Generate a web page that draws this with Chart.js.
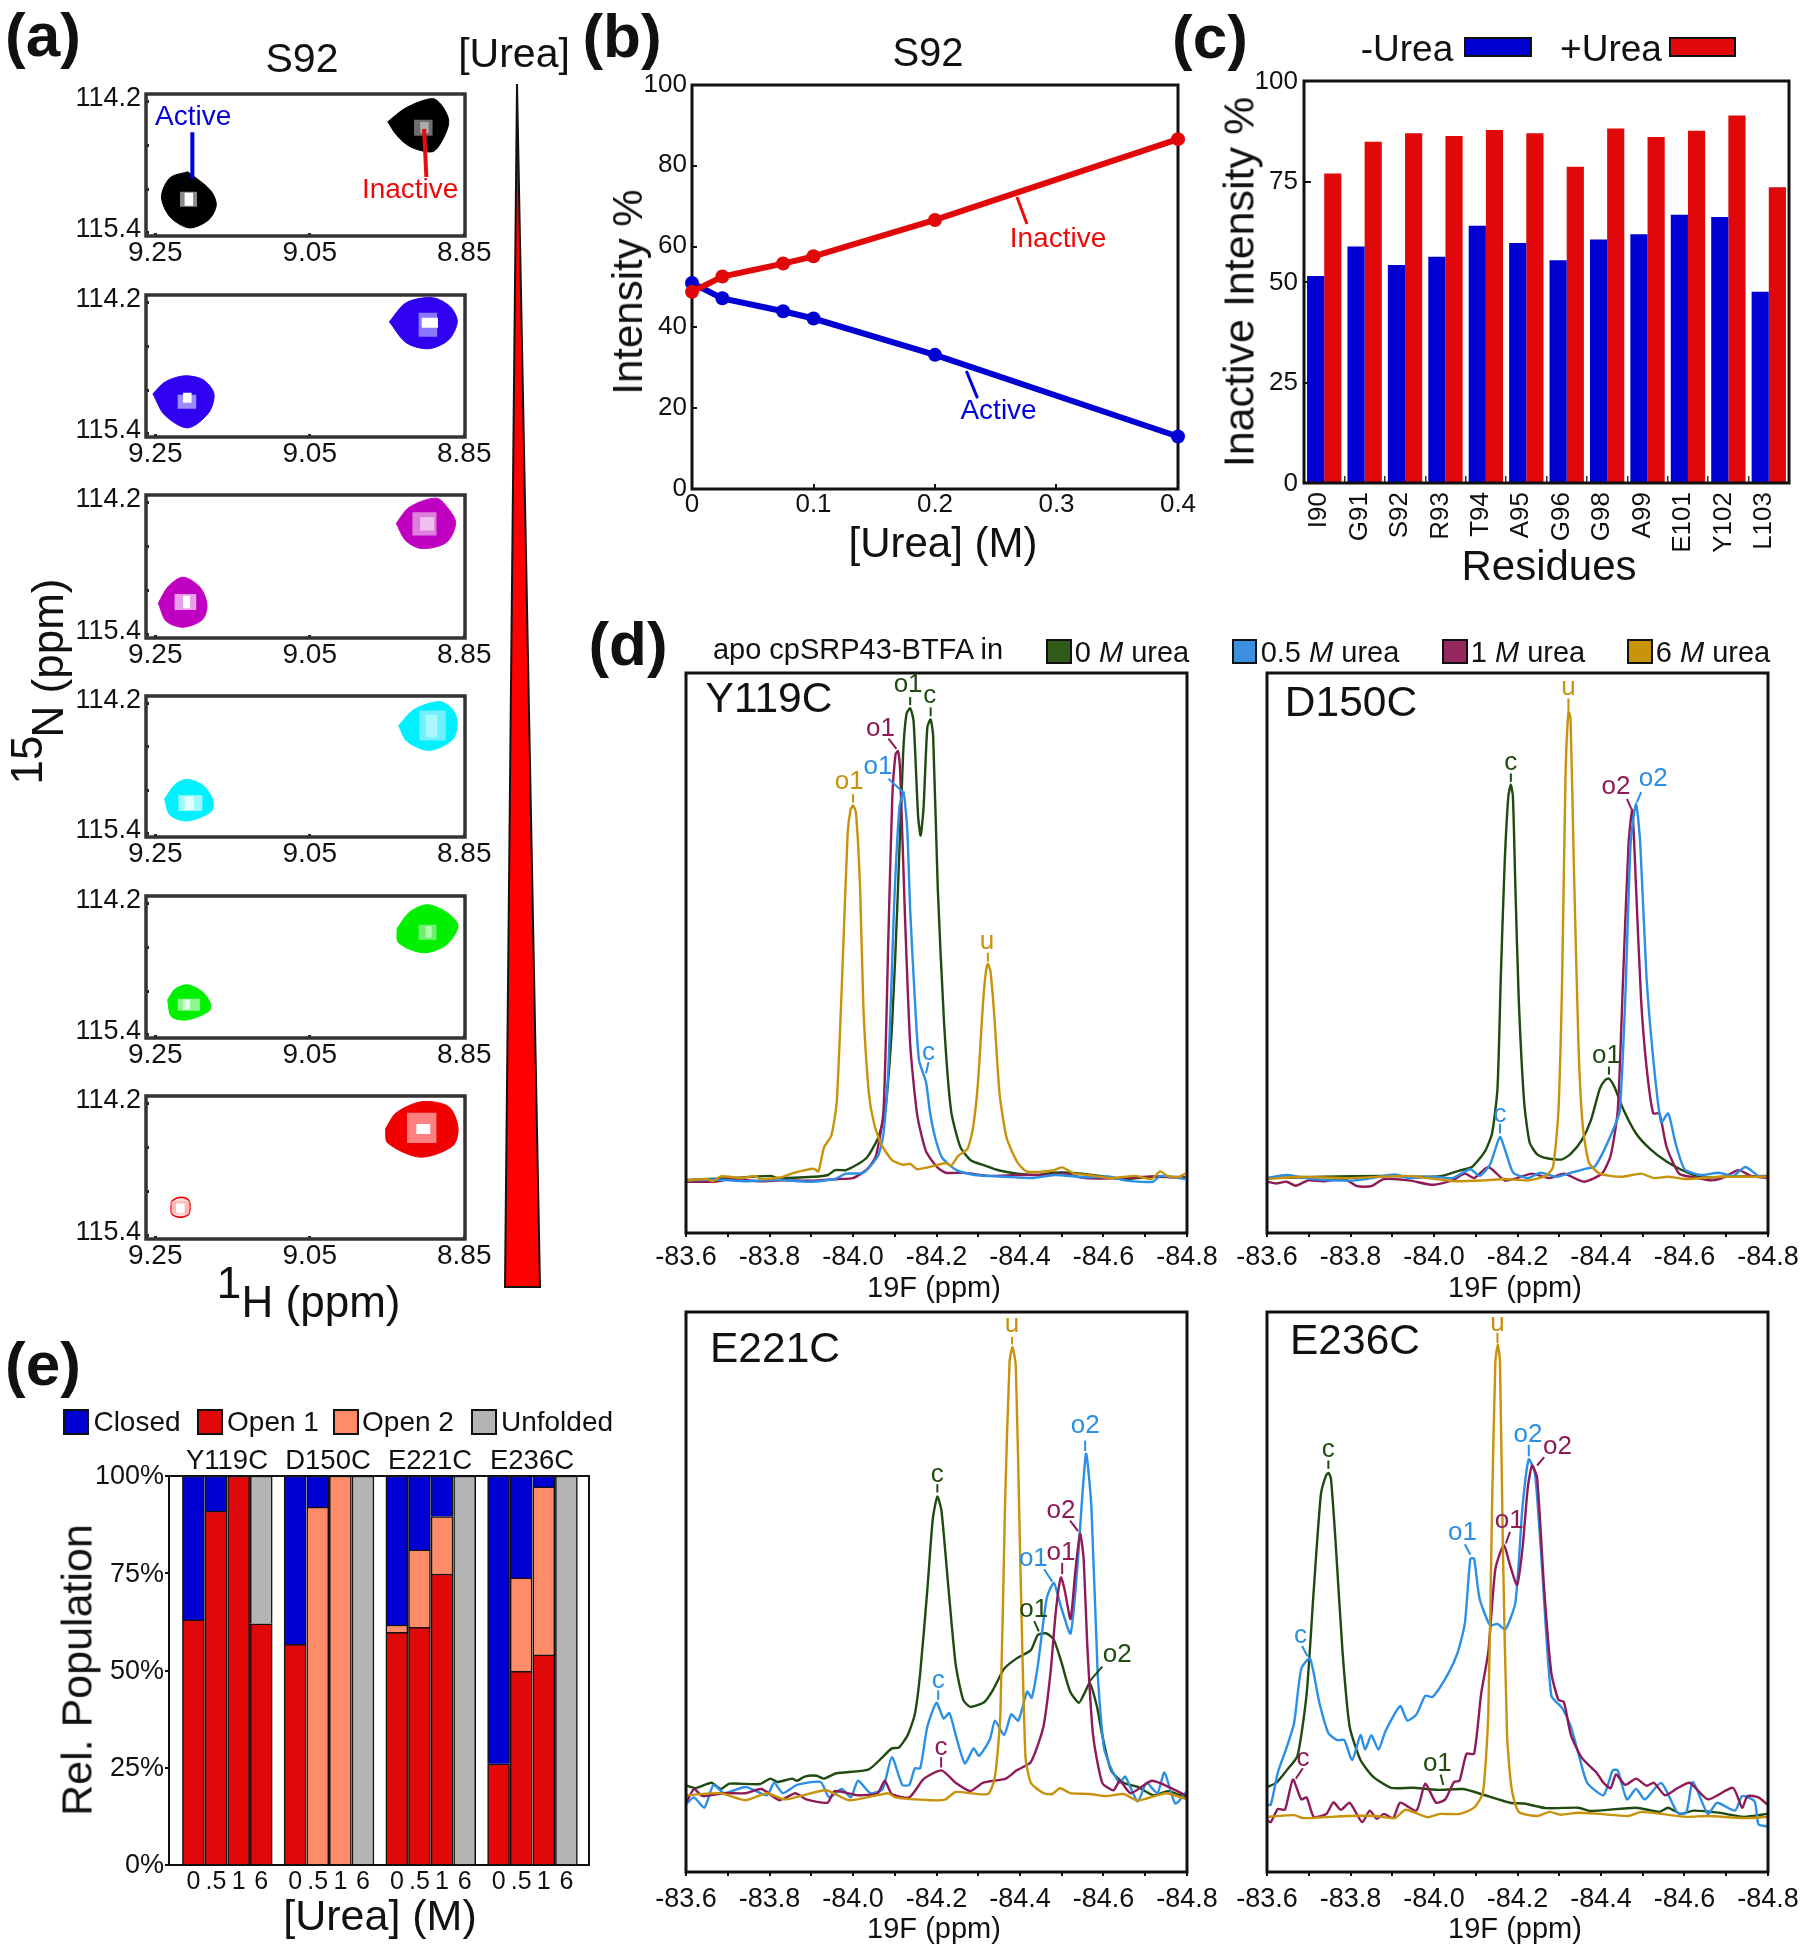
<!DOCTYPE html>
<html><head><meta charset="utf-8">
<script src="https://cdn.jsdelivr.net/npm/chart.js@4"></script>
<style>
html,body{margin:0;padding:0;background:#fff}
#page{position:relative;width:1805px;height:1950px;overflow:hidden;background:#fff;font-family:"Liberation Sans",Arial,sans-serif;color:#111}
canvas{position:absolute}
.t{position:absolute;white-space:nowrap;line-height:1;transform:translate(-50%,-50%)}
.s{position:absolute;box-sizing:border-box;border:2px solid #111}
</style></head><body><div id="page"></div>
<script>
/* ---------- (a) contour outlines, 1H and 15N ppm ---------- */
const ticksA_H=[9.25,9.05,8.85], ticksA_N=[114.2,114.6,115.0,115.4];
const f1aH=[9.208,9.179,9.171,9.181,9.206,9.231,9.242,9.231,9.208], f1aN=[114.822,114.982,115.116,115.249,115.32,115.222,115.044,114.876,114.822];
const f1iH=[8.949,8.925,8.891,8.878,8.87,8.878,8.891,8.92,8.938,8.949], f1iN=[114.378,114.253,114.173,114.244,114.378,114.538,114.644,114.6,114.493,114.378];
const f2aH=[9.253,9.237,9.212,9.188,9.174,9.181,9.208,9.238,9.253], f2aN=[115.009,114.902,114.849,114.884,115.009,115.178,115.311,115.196,115.009];
const f2iH=[8.947,8.925,8.891,8.868,8.859,8.87,8.896,8.925,8.947], f2iN=[114.369,114.2,114.156,114.236,114.369,114.529,114.609,114.556,114.369];
const f3aH=[9.246,9.233,9.214,9.192,9.183,9.189,9.214,9.236,9.246], f3aN=[115.084,114.936,114.856,114.945,115.1,115.23,115.297,115.243,115.084];
const f3iH=[8.938,8.921,8.886,8.87,8.861,8.873,8.905,8.926,8.938], f3iN=[114.381,114.239,114.16,114.257,114.381,114.55,114.604,114.532,114.381];
const f4aH=[9.238,9.224,9.208,9.187,9.176,9.177,9.208,9.231,9.238], f4aN=[115.053,114.92,114.876,114.938,115.053,115.16,115.249,115.196,115.053];
const f4iH=[8.935,8.915,8.882,8.865,8.859,8.865,8.895,8.924,8.935], f4iN=[114.396,114.253,114.182,114.253,114.369,114.52,114.618,114.538,114.396];
const f5aH=[9.234,9.224,9.208,9.189,9.179,9.18,9.208,9.229,9.234], f5aN=[115.053,114.956,114.92,114.982,115.08,115.151,115.231,115.204,115.053];
const f5iH=[8.937,8.921,8.898,8.873,8.858,8.873,8.903,8.935,8.937], f5iN=[114.422,114.276,114.209,114.276,114.396,114.564,114.636,114.547,114.422];
const f6aH=[9.229,9.222,9.213,9.206,9.206,9.213,9.222,9.229,9.229], f6aN=[115.06,115.03,115.027,115.06,115.165,115.196,115.196,115.165,115.06];
const f6iH=[8.952,8.938,8.905,8.87,8.858,8.865,8.907,8.949,8.952], f6iN=[114.422,114.28,114.182,114.227,114.413,114.573,114.671,114.547,114.422];
/* inner contour clusters: h1,h2,n1,n2 */
const f1Core=[[9.218,9.196,115.0,115.133],[9.212,9.201,115.009,115.124],[8.915,8.891,114.36,114.502],[8.907,8.896,114.38,114.48]];
const f2Core=[[9.221,9.197,115.018,115.142],[9.214,9.203,115.0,115.089],[8.909,8.885,114.289,114.502],[8.905,8.884,114.333,114.422]];
const f3Core=[[9.225,9.197,115.004,115.146],[9.214,9.205,115.02,115.13],[8.917,8.886,114.284,114.488],[8.907,8.889,114.328,114.444]];
const f4Core=[[9.22,9.189,115.018,115.16],[9.212,9.2,115.03,115.15],[8.908,8.874,114.262,114.529],[8.9,8.885,114.3,114.5]];
const f5Core=[[9.221,9.192,115.044,115.151],[9.214,9.205,115.05,115.14],[8.909,8.886,114.387,114.52],[8.9,8.892,114.4,114.5]];
const f6Core=[[9.229,9.206,115.06,115.165],[9.223,9.212,115.08,115.16],[8.924,8.886,114.28,114.547],[8.912,8.894,114.378,114.467]];

/* ---------- (b) ---------- */
const ureaConc=[0,0.025,0.075,0.1,0.2,0.4];
const activePct=[51,47.2,44,42.2,33.2,13];
const inactivePct=[48.8,52.6,55.8,57.6,66.6,86.6];
const ticksB_X=[0,0.1,0.2,0.3,0.4], ticksB_Y=[0,20,40,60,80,100];

/* ---------- (c) ---------- */
const residues=["I90","G91","S92","R93","T94","A95","G96","G98","A99","E101","Y102","L103"];
const minusUrea=[51.5,58.8,54.2,56.3,64,59.7,55.4,60.6,61.9,66.7,66.2,47.6];
const plusUrea=[77,84.9,87,86.3,87.8,87,78.7,88.2,86.1,87.6,91.4,73.6];
const ticksC_Y=[0,25,50,75,100];

/* ---------- (d) spectra: ppm and arbitrary intensity ---------- */
const ticksD_X=[-83.6,-83.7,-83.8,-83.9,-84.0,-84.1,-84.2,-84.3,-84.4,-84.5,-84.6,-84.7,-84.8];
const y119GoldX=[-83.602,-83.649,-83.666,-83.683,-83.734,-83.764,-83.781,-83.829,-83.859,-83.906,-83.917,-83.931,-83.948,-83.961,-83.974,-83.987,-83.994,-84.000,-84.007,-84.017,-84.025,-84.038,-84.051,-84.068,-84.094,-84.120,-84.137,-84.154,-84.197,-84.222,-84.235,-84.252,-84.274,-84.287,-84.299,-84.312,-84.318,-84.323,-84.329,-84.338,-84.351,-84.368,-84.394,-84.415,-84.445,-84.479,-84.501,-84.530,-84.565,-84.616,-84.676,-84.715,-84.736,-84.753,-84.779,-84.796];
const y119GoldY=[118,121,116,127,123,128,121,125,135,144,138,193,218,293,573,893,948,958,943,773,503,313,243,198,163,153,155,143,151,157,151,173,188,233,333,523,583,603,588,493,313,213,158,138,137,140,147,133,130,123,128,121,138,128,125,133];
const y119GreenX=[-83.602,-83.709,-83.803,-83.820,-83.906,-83.940,-83.957,-83.983,-84.013,-84.034,-84.060,-84.077,-84.094,-84.107,-84.120,-84.128,-84.137,-84.145,-84.156,-84.162,-84.169,-84.178,-84.186,-84.192,-84.203,-84.218,-84.235,-84.257,-84.282,-84.316,-84.351,-84.394,-84.445,-84.479,-84.522,-84.608,-84.650,-84.719,-84.796];
const y119GreenY=[119,123,128,123,126,130,141,141,155,170,213,273,473,753,1073,1163,1176,1148,933,891,953,1133,1151,1113,773,473,273,193,163,151,140,133,130,135,135,126,121,126,125];
const y119PurpleX=[-83.602,-83.666,-83.709,-83.777,-83.829,-83.897,-83.966,-84.000,-84.034,-84.055,-84.073,-84.085,-84.094,-84.102,-84.108,-84.113,-84.124,-84.137,-84.154,-84.175,-84.201,-84.222,-84.265,-84.325,-84.394,-84.462,-84.505,-84.556,-84.650,-84.719,-84.796];
const y119PurpleY=[115,115,121,116,118,117,121,123,143,173,273,673,973,1073,1080,1033,723,423,263,183,148,135,135,128,130,130,133,123,123,127,123];
const y119BlueX=[-83.602,-83.666,-83.743,-83.820,-83.897,-83.957,-83.983,-84.025,-84.060,-84.073,-84.085,-84.098,-84.111,-84.121,-84.130,-84.137,-84.147,-84.158,-84.175,-84.184,-84.197,-84.214,-84.248,-84.291,-84.368,-84.428,-84.483,-84.556,-84.616,-84.650,-84.719,-84.736,-84.796];
const y119BlueY=[118,120,116,119,115,121,133,135,173,223,373,723,953,988,903,723,543,388,338,273,213,168,141,130,126,123,130,125,126,118,115,128,121];

const d150GreenX=[-83.600,-83.734,-83.880,-83.966,-84.018,-84.061,-84.091,-84.122,-84.139,-84.152,-84.160,-84.169,-84.178,-84.184,-84.189,-84.195,-84.203,-84.216,-84.229,-84.247,-84.268,-84.307,-84.328,-84.354,-84.376,-84.397,-84.410,-84.419,-84.432,-84.453,-84.484,-84.518,-84.557,-84.596,-84.639,-84.699,-84.798];
const d150GreenY=[123,126,128,126,128,140,148,183,223,323,573,823,978,1005,978,773,523,293,203,176,168,165,178,208,253,323,343,346,328,278,223,188,160,140,125,126,128];
const d150GoldX=[-83.600,-83.682,-83.794,-83.932,-84.053,-84.122,-84.169,-84.225,-84.268,-84.285,-84.298,-84.307,-84.315,-84.322,-84.327,-84.335,-84.346,-84.356,-84.371,-84.397,-84.449,-84.496,-84.527,-84.561,-84.604,-84.690,-84.798];
const d150GoldY=[121,126,123,128,116,118,121,118,128,148,273,573,1023,1168,1153,823,423,243,158,133,126,133,123,126,121,126,126];
const d150PurpleX=[-83.600,-83.622,-83.647,-83.669,-83.699,-83.734,-83.785,-83.816,-83.850,-83.880,-83.940,-83.997,-84.044,-84.074,-84.096,-84.130,-84.169,-84.199,-84.234,-84.277,-84.311,-84.359,-84.402,-84.423,-84.440,-84.453,-84.466,-84.475,-84.484,-84.496,-84.509,-84.525,-84.540,-84.557,-84.587,-84.621,-84.665,-84.690,-84.729,-84.759,-84.798];
const d150PurpleY=[115,111,115,106,118,116,121,105,105,121,118,108,118,133,123,148,118,123,133,123,133,115,133,173,273,573,873,948,773,523,373,268,268,193,133,125,118,123,141,128,123];
const d150BlueX=[-83.600,-83.647,-83.708,-83.811,-83.906,-83.940,-84.001,-84.044,-84.087,-84.109,-84.134,-84.158,-84.173,-84.190,-84.225,-84.255,-84.294,-84.328,-84.367,-84.384,-84.406,-84.432,-84.445,-84.458,-84.471,-84.484,-84.494,-84.509,-84.527,-84.544,-84.561,-84.578,-84.600,-84.639,-84.682,-84.716,-84.746,-84.777,-84.798];
const d150BlueY=[123,130,121,118,131,123,126,123,143,128,153,215,178,135,123,135,126,135,145,148,183,238,273,523,873,963,873,573,373,248,268,203,143,130,135,128,148,128,126];

const e221GreenX=[-83.602,-83.623,-83.661,-83.683,-83.704,-83.777,-83.802,-83.819,-83.854,-83.866,-83.884,-83.913,-83.930,-83.960,-84.037,-84.071,-84.093,-84.110,-84.131,-84.148,-84.161,-84.178,-84.191,-84.202,-84.212,-84.229,-84.246,-84.264,-84.281,-84.315,-84.336,-84.362,-84.392,-84.426,-84.443,-84.464,-84.481,-84.498,-84.520,-84.541,-84.554,-84.567,-84.584,-84.597,-84.618,-84.648,-84.682,-84.720,-84.755,-84.797];
const e221GreenY=[208,202,215,200,213,212,225,217,225,220,230,232,225,238,247,277,298,300,330,380,480,680,850,905,870,680,500,415,398,410,440,490,515,535,572,575,560,510,435,408,430,455,400,330,245,215,205,185,195,180];
const e221GoldX=[-83.602,-83.683,-83.743,-83.794,-83.837,-83.935,-83.990,-84.084,-84.101,-84.187,-84.221,-84.246,-84.323,-84.340,-84.353,-84.364,-84.375,-84.382,-84.390,-84.400,-84.413,-84.426,-84.456,-84.477,-84.496,-84.520,-84.567,-84.605,-84.648,-84.682,-84.750,-84.800];
const e221GoldY=[185,190,173,190,175,197,173,190,180,173,175,193,188,230,380,880,1230,1265,1220,780,280,215,190,188,202,190,188,183,188,172,190,175];
const e221PurpleX=[-83.602,-83.619,-83.640,-83.691,-83.743,-83.781,-83.824,-83.862,-83.888,-83.939,-83.956,-84.012,-84.059,-84.076,-84.093,-84.135,-84.170,-84.212,-84.246,-84.281,-84.311,-84.366,-84.392,-84.426,-84.456,-84.473,-84.486,-84.498,-84.507,-84.521,-84.533,-84.544,-84.552,-84.562,-84.575,-84.597,-84.624,-84.639,-84.665,-84.716,-84.767,-84.800];
const e221PurpleY=[170,200,183,190,190,200,173,190,175,167,195,185,190,220,188,180,225,245,215,195,215,225,245,265,350,480,630,710,680,610,730,815,760,530,330,215,197,220,190,220,200,183];
const e221BlueX=[-83.602,-83.619,-83.644,-83.666,-83.691,-83.743,-83.794,-83.811,-83.832,-83.866,-83.922,-83.943,-83.973,-83.995,-84.012,-84.042,-84.071,-84.093,-84.118,-84.135,-84.148,-84.161,-84.178,-84.200,-84.217,-84.231,-84.246,-84.268,-84.289,-84.302,-84.328,-84.340,-84.362,-84.379,-84.396,-84.417,-84.428,-84.443,-84.464,-84.481,-84.498,-84.521,-84.537,-84.558,-84.571,-84.586,-84.601,-84.618,-84.639,-84.652,-84.682,-84.703,-84.729,-84.746,-84.772,-84.800];
const e221BlueY=[165,180,155,210,190,205,185,215,190,210,217,180,200,180,220,190,200,277,210,210,250,250,350,408,370,383,330,262,298,280,320,365,330,380,365,435,420,500,660,697,640,575,730,1008,880,480,300,250,215,230,170,215,190,240,165,195];

const e236GreenX=[-83.600,-83.622,-83.647,-83.673,-83.695,-83.712,-83.729,-83.741,-83.747,-83.753,-83.764,-83.781,-83.798,-83.824,-83.854,-83.897,-83.949,-84.009,-84.070,-84.122,-84.182,-84.216,-84.268,-84.346,-84.376,-84.484,-84.540,-84.561,-84.591,-84.621,-84.682,-84.742,-84.798];
const e236GreenY=[205,215,245,280,430,680,910,955,962,950,800,530,350,270,230,203,203,198,200,185,167,165,154,155,147,155,145,155,140,148,143,133,140];
const e236GoldX=[-83.600,-83.665,-83.686,-83.794,-83.859,-83.906,-83.932,-83.984,-84.014,-84.061,-84.096,-84.117,-84.130,-84.139,-84.147,-84.153,-84.158,-84.165,-84.175,-84.186,-84.203,-84.247,-84.277,-84.303,-84.346,-84.397,-84.466,-84.496,-84.544,-84.604,-84.656,-84.742,-84.798];
const e236GoldY=[133,137,130,135,135,130,150,132,140,140,155,190,380,880,1230,1272,1230,780,330,200,145,135,145,138,143,140,135,145,140,133,135,130,133];
const e236PurpleX=[-83.600,-83.609,-83.626,-83.643,-83.662,-83.682,-83.695,-83.712,-83.742,-83.759,-83.777,-83.798,-83.828,-83.846,-83.863,-83.880,-83.902,-83.919,-83.958,-83.979,-84.005,-84.027,-84.048,-84.061,-84.078,-84.096,-84.113,-84.130,-84.147,-84.167,-84.182,-84.199,-84.212,-84.225,-84.235,-84.247,-84.264,-84.281,-84.298,-84.311,-84.328,-84.354,-84.389,-84.406,-84.423,-84.436,-84.458,-84.484,-84.509,-84.527,-84.553,-84.583,-84.613,-84.656,-84.716,-84.738,-84.751,-84.777,-84.798];
const e236PurpleY=[125,120,152,150,223,175,180,133,140,168,150,167,120,148,128,140,130,167,148,213,167,175,217,220,285,285,430,530,730,788,740,692,780,930,980,950,680,480,415,410,330,275,240,215,202,235,210,225,208,215,185,202,215,175,203,155,183,180,163];
const e236BlueX=[-83.600,-83.609,-83.626,-83.647,-83.665,-83.682,-83.703,-83.725,-83.747,-83.768,-83.785,-83.804,-83.824,-83.835,-83.850,-83.867,-83.884,-83.919,-83.936,-83.958,-83.979,-83.997,-84.035,-84.057,-84.074,-84.087,-84.096,-84.109,-84.134,-84.152,-84.171,-84.195,-84.212,-84.227,-84.242,-84.259,-84.281,-84.307,-84.328,-84.350,-84.367,-84.406,-84.428,-84.440,-84.462,-84.484,-84.505,-84.544,-84.583,-84.604,-84.620,-84.656,-84.678,-84.721,-84.738,-84.768,-84.777,-84.798];
const e236BlueY=[163,162,240,300,360,490,515,410,335,318,318,270,330,295,330,295,340,400,365,380,425,422,480,530,600,755,755,660,595,598,585,650,880,995,960,730,425,395,350,270,215,185,245,245,175,200,175,215,143,143,217,140,167,148,183,170,115,110];

/* peak labels: text, colour key, ppm, intensity */
const y119Labels=[["o1","g",-84.132,1228],["c","g",-84.184,1203],["o1","p",-84.066,1130],["o1","b",-84.060,1045],["o1","y",-83.991,1011],["u","y",-84.321,653],["c","b",-84.181,403]];
const y119Stems=[["g",-84.137,1201,-84.137,1183],["g",-84.186,1178,-84.186,1158],["p",-84.085,1108,-84.104,1085],["b",-84.085,1018,-84.120,988],["y",-84.000,983,-84.000,965],["y",-84.323,628,-84.323,608],["b",-84.181,383,-84.175,358]];
const d150Labels=[["c","g",-84.184,1053],["u","y",-84.322,1221],["o2","p",-84.436,1001],["o2","b",-84.525,1018],["o1","g",-84.413,398],["c","b",-84.158,265]];
const d150Stems=[["g",-84.184,1030,-84.184,1011],["y",-84.322,1198,-84.322,1170],["p",-84.462,973,-84.473,950],["b",-84.496,988,-84.486,965],["g",-84.419,373,-84.419,355],["b",-84.158,245,-84.158,223]];
const e221Labels=[["u","y",-84.381,1318],["c","g",-84.202,958],["o2","b",-84.556,1075],["o2","p",-84.498,870],["o1","b",-84.432,755],["o1","p",-84.498,770],["o1","g",-84.433,632],["o2","g",-84.633,523],["c","b",-84.204,462],["c","p",-84.211,300]];
const e221Stems=[["y",-84.381,1290,-84.381,1272],["g",-84.202,935,-84.202,915],["b",-84.556,1040,-84.556,1015],["p",-84.520,847,-84.539,822],["b",-84.458,730,-84.477,700],["p",-84.501,745,-84.501,718],["g",-84.434,605,-84.445,580],["g",-84.597,495,-84.567,460],["b",-84.204,438,-84.204,415],["p",-84.211,277,-84.211,252]];
const e236Labels=[["u","y",-84.152,1322],["c","g",-83.747,1018],["o2","b",-84.225,1055],["o2","p",-84.296,1025],["o1","p",-84.180,847],["o1","b",-84.068,818],["c","b",-83.680,570],["c","p",-83.686,272],["o1","g",-84.008,260]];
const e236Stems=[["y",-84.152,1300,-84.152,1275],["g",-83.747,992,-83.747,972],["b",-84.227,1030,-84.227,1002],["p",-84.264,1000,-84.247,980],["p",-84.182,820,-84.172,792],["b",-84.074,790,-84.087,765],["b",-83.684,545,-83.697,520],["p",-83.686,250,-83.669,225],["g",-84.016,235,-84.022,210]];

/* ---------- (e) ---------- */
const mutants=["Y119C","D150C","E221C","E236C"];
const ureaLabels=["0",".5","1","6"];
const barPos=[0,1,2,3,4.5,5.5,6.5,7.5,9,10,11,12,13.5,14.5,15.5,16.5];
const open1=[63,91,100,62,56.7,null,null,null,59.8,61.1,74.8,null,26,49.8,54,null];
const open2=[null,null,null,null,null,92,100,null,1.9,19.9,14.8,null,null,24,43.2,null];
const closed=[37,9,null,null,43.3,8,null,null,38.3,19,10.4,null,74,26.2,2.8,null];
const unfolded=[null,null,null,38,null,null,null,100,null,null,null,100,null,null,null,100];
const ticksE_Y=[0,25,50,75,100];

/* ---------- helpers ---------- */
const FONT='"Liberation Sans",Arial,sans-serif';
const page=document.getElementById('page');
const DCOL={g:'#1f4a10',b:'#2b8fe6',p:'#8e1a57',y:'#c8920c',B:'#0000e0',R:'#ee0a0a'};
const BLUE='#0000d2',RED='#e00808';
function txt(x,y,html,size,o={}){const d=document.createElement('div');d.className='t';d.innerHTML=html;
 d.style.left=x+'px';d.style.top=y+'px';d.style.fontSize=size+'px';
 if(o.color)d.style.color=o.color;if(o.bold)d.style.fontWeight='bold';
 if(o.rot)d.style.transform='translate(-50%,-50%) rotate('+o.rot+'deg)';
 page.appendChild(d);}
function sw(l,t,r,b,c){const d=document.createElement('div');d.className='s';d.style.left=l+'px';d.style.top=t+'px';d.style.width=(r-l)+'px';d.style.height=(b-t)+'px';d.style.background=c;page.appendChild(d);}
Chart.register({id:'frame',
 beforeDatasetsDraw(c,a,o){if(o.under)draw(c,o)},
 afterDraw(c,a,o){if(!o.under)draw(c,o)}});
function draw(c,o){if(!o.width)return;const A=c.chartArea,x=c.ctx;x.save();x.strokeStyle=o.color;x.lineWidth=o.width;x.strokeRect(A.left,A.top,A.right-A.left,A.bottom-A.top);x.restore();}
Chart.register({id:'notes',afterDraw(c,a,o){
 if(!o.labels&&!o.stems)return;const x=c.ctx,sx=c.scales.x,sy=c.scales.y;x.save();
 (o.stems||[]).forEach(s=>{x.strokeStyle=DCOL[s[0]];x.lineWidth=o.stemWidth||2;x.beginPath();x.moveTo(sx.getPixelForValue(s[1]),sy.getPixelForValue(s[2]));x.lineTo(sx.getPixelForValue(s[3]),sy.getPixelForValue(s[4]));x.stroke();});
 x.font=(o.size||26)+'px '+FONT;x.textAlign='center';x.textBaseline='middle';
 (o.labels||[]).forEach(l=>{x.fillStyle=DCOL[l[1]];x.fillText(l[0],sx.getPixelForValue(l[2]),sy.getPixelForValue(l[3]));});
 x.restore();}});
function axis(v,o){return {type:'linear',min:o.min,max:o.max,reverse:!!o.reverse,offset:false,
 grid:{display:true,offset:false,drawOnChartArea:false,drawTicks:o.tl!==0,tickLength:o.tl||0,color:o.tc||'#111',lineWidth:o.tw||2},
 border:{display:false},
 ticks:{display:o.show!==false,autoSkip:false,maxRotation:0,minRotation:0,padding:o.pad||0,labelOffset:o.lo||0,color:'#111',font:{family:FONT,size:o.size||26,lineHeight:1},callback:o.fmt||(x=>String(x))},
 afterBuildTicks:s=>{s.ticks=v.map(t=>({value:t}))}};}
function plot(rect,m,cfg){const c=document.createElement('canvas');const W=rect[2]-rect[0]+m[0]+m[1],H=rect[3]-rect[1]+m[2]+m[3];
 c.width=W;c.height=H;c.style.left=(rect[0]-m[0])+'px';c.style.top=(rect[1]-m[2])+'px';c.style.width=W+'px';c.style.height=H+'px';page.appendChild(c);
 const sc=cfg.options.scales;
 sc.x.afterFit=s=>{s.height=m[3]};sc.y.afterFit=s=>{s.width=m[0]};
 cfg.options.responsive=false;cfg.options.animation=false;cfg.options.devicePixelRatio=1;
 cfg.options.layout={padding:{left:0,right:m[1],top:m[2],bottom:0}};
 cfg.options.plugins=Object.assign({legend:{display:false},tooltip:{enabled:false}},cfg.options.plugins||{});
 return new Chart(c,cfg);}
const xy=(X,Y)=>X.map((x,i)=>({x:x,y:Y[i]}));

/* ---------- (a) ---------- */
/* outlines were read with 112.5 px per ppm; the printed axis is 109 px per ppm */
const nCal=n=>114.2+(n-114.2)*1.032;
const xyN=(X,Y)=>X.map((x,i)=>({x:x,y:nCal(Y[i])}));
const box=r=>[{x:r[0],y:nCal(r[2])},{x:r[1],y:nCal(r[2])},{x:r[1],y:nCal(r[3])},{x:r[0],y:nCal(r[3])},{x:r[0],y:nCal(r[2])}];
const fmtA=v=>v.toFixed(v>100?1:2);
function panelA(top,bottom,aH,aN,iH,iN,core,col,coreCols,notes,hollow){
 const shape=(d,bg,bc,bw,t)=>({data:d,backgroundColor:bg,borderColor:bc,borderWidth:bw,pointRadius:0,fill:'shape',tension:t});
 const ds=[];
 core.slice().reverse().forEach((r,i)=>{const k=core.length-1-i;ds.push(shape(box(r),coreCols[k],coreCols[k],0,0));});
 ds.push(shape(xyN(aH,aN),hollow?'#ffd8d8':col,col,hollow?1.5:1,0.3));
 ds.push(shape(xyN(iH,iN),col,col,1,0.3));
 plot([146,top,465,bottom],[90,45,30,34],{type:'line',data:{datasets:ds},options:{
  scales:{x:axis(ticksA_H,{min:8.849,max:9.262,reverse:true,tl:-3,pad:6.5,size:28,fmt:fmtA,tc:'#222',tw:3}),
          y:axis(ticksA_N,{min:114.13,max:115.43,reverse:true,tl:-3,pad:8,size:27,lo:-3,tc:'#222',tw:3,fmt:v=>(v===114.2||v===115.4)?v.toFixed(1):''})},
  plugins:{frame:{color:'#333',width:3.5},notes:notes||{}}}});}
panelA(94,236,f1aH,f1aN,f1iH,f1iN,f1Core,'#000',['#8a8a8a','#ffffff','#6e6e6e','#ababab'],
 {labels:[["Active","B",9.201,114.345],["Inactive","R",8.92,115.015]],stems:[["B",9.202,114.48,9.202,114.905],["R",8.902,114.45,8.899,114.89]],stemWidth:4,size:28});
panelA(295,437,f2aH,f2aN,f2iH,f2iN,f2Core,'#3000f0',['#9a8cff','#ffffff','#8a78ff','#ffffff']);
panelA(495,638,f3aH,f3aN,f3iH,f3iN,f3Core,'#c000c0',['#e8a0e8','#ffffff','#dc80dc','#f0c0f0']);
panelA(696,837,f4aH,f4aN,f4iH,f4iN,f4Core,'#00f0ff',['#a0f8ff','#e0ffff','#70f0ff','#a8f8ff']);
panelA(896,1038,f5aH,f5aN,f5iH,f5iN,f5Core,'#00f000',['#90f890','#e0ffe0','#70f070','#b0ffb0']);
panelA(1096,1239,f6aH,f6aN,f6iH,f6iN,f6Core,'#f00000',['#ffb8b8','#ffffff','#ff8080','#ffffff'],null,true);

txt(43,35,'(a)',62,{bold:true});
txt(302,58,'S92',41);
txt(514,53,'[Urea]',41);
txt(229,1283,'1',44);txt(321,1302,'H (ppm)',44);
txt(27,760,'15',44,{rot:-90});txt(48,658,'N (ppm)',44,{rot:-90});
/* concentration wedge */
const ns='http://www.w3.org/2000/svg',svg=document.createElementNS(ns,'svg');
svg.setAttribute('width','1805');svg.setAttribute('height','1950');svg.style.cssText='position:absolute;left:0;top:0';
const poly=document.createElementNS(ns,'polygon');poly.setAttribute('points','517,84 540,1287 505,1287');poly.setAttribute('fill','#ff0000');poly.setAttribute('stroke','#111');poly.setAttribute('stroke-width','2');svg.appendChild(poly);page.appendChild(svg);

/* ---------- (b) ---------- */
const lineStyle=(d,c)=>({data:d,borderColor:c,backgroundColor:c,borderWidth:6,pointRadius:7,pointBackgroundColor:c,pointBorderColor:c,pointBorderWidth:0,tension:0,clip:false,fill:false});
plot([692,85,1178,489],[70,45,30,40],{type:'line',data:{datasets:[lineStyle(xy(ureaConc,inactivePct),RED),lineStyle(xy(ureaConc,activePct),BLUE)]},options:{
 scales:{x:axis(ticksB_X,{min:0,max:0.4,tl:-5,pad:8,size:26,fmt:v=>v===0?'0':v.toFixed(1)}),
         y:axis(ticksB_Y,{min:0,max:100,tl:-5,pad:10,size:26,lo:-0.5})},
 plugins:{frame:{color:'#111',width:3,under:true},notes:{labels:[["Inactive","R",0.3012,61.9],["Active","B",0.2523,19.2]],stems:[["R",0.2675,72.3,0.2757,65.6],["B",0.2258,29.2,0.235,22.5]],stemWidth:3,size:28}}}});
txt(622,36,'(b)',62,{bold:true});
txt(928,52,'S92',40);
txt(943,543,'[Urea] (M)',42);
txt(628,292,'Intensity %',42,{rot:-90});

/* ---------- (c) ---------- */
const yc=axis(ticksC_Y,{min:0,max:100,tl:-7,pad:13,size:26,lo:0.5});
plot([1304,81,1789,483],[70,50,30,90],{type:'bar',data:{labels:residues,datasets:[
 {data:minusUrea,backgroundColor:BLUE,barPercentage:1,categoryPercentage:0.85},
 {data:plusUrea,backgroundColor:RED,barPercentage:1,categoryPercentage:0.85}]},options:{
 scales:{x:{type:'category',grid:{display:true,drawOnChartArea:false,offset:true,tickLength:-7,color:'#333',lineWidth:1.5},border:{display:false},
   ticks:{autoSkip:false,maxRotation:90,minRotation:90,padding:16,labelOffset:-5,color:'#111',font:{family:FONT,size:26,lineHeight:1}}},y:yc},
 plugins:{frame:{color:'#111',width:3}}}});
txt(1210,37,'(c)',62,{bold:true});
txt(1407,48,'-Urea',37);sw(1464,37,1532,57,BLUE);
txt(1611,48,'+Urea',37);sw(1669,37,1736,57,RED);
txt(1239,282,'Inactive Intensity %',43,{rot:-90});
txt(1549,566,'Residues',42);

/* ---------- (d) ---------- */
const fmtD=v=>Math.round(v*10)%2===0?v.toFixed(1):'';
function spec(c,d){return {data:d,borderColor:DCOL[c],borderWidth:2.4,pointRadius:0,tension:0.2,fill:false};}
function panelD(rect,ymax,series,labels,stems,pad){
 plot(rect,[55,55,10,50],{type:'line',data:{datasets:series},options:{
  scales:{x:axis(ticksD_X,{min:-84.8,max:-83.6,reverse:true,tl:4,pad:pad,size:27,fmt:fmtD}),
          y:{type:'linear',min:0,max:ymax,display:true,grid:{display:false},border:{display:false},ticks:{display:false}}},
  plugins:{frame:{color:'#111',width:3},notes:{labels:labels,stems:stems,size:26,stemWidth:2}}}});}
panelD([686,673,1187,1233],1255,[spec('y',xy(y119GoldX,y119GoldY)),spec('b',xy(y119BlueX,y119BlueY)),spec('p',xy(y119PurpleX,y119PurpleY)),spec('g',xy(y119GreenX,y119GreenY))],y119Labels,y119Stems,7);
panelD([1267,673,1768,1233],1255,[spec('y',xy(d150GoldX,d150GoldY)),spec('b',xy(d150BlueX,d150BlueY)),spec('p',xy(d150PurpleX,d150PurpleY)),spec('g',xy(d150GreenX,d150GreenY))],d150Labels,d150Stems,7);
panelD([686,1312,1187,1872],1350,[spec('y',xy(e221GoldX,e221GoldY)),spec('p',xy(e221PurpleX,e221PurpleY)),spec('b',xy(e221BlueX,e221BlueY)),spec('g',xy(e221GreenX,e221GreenY))],e221Labels,e221Stems,10);
panelD([1267,1312,1768,1872],1350,[spec('y',xy(e236GoldX,e236GoldY)),spec('p',xy(e236PurpleX,e236PurpleY)),spec('b',xy(e236BlueX,e236BlueY)),spec('g',xy(e236GreenX,e236GreenY))],e236Labels,e236Stems,10);
txt(628,644,'(d)',62,{bold:true});
txt(858,649,'apo cpSRP43-BTFA in',29);
sw(1046,639,1072,664,'#2f5a17');txt(1132,652,'0 <i>M</i> urea',29);
sw(1232,639,1257,664,'#3a8fe0');txt(1330,652,'0.5 <i>M</i> urea',29);
sw(1442,639,1468,664,'#96285f');txt(1528,652,'1 <i>M</i> urea',29);
sw(1627,639,1653,664,'#c8940a');txt(1713,652,'6 <i>M</i> urea',29);
txt(769,698,'Y119C',42.5);txt(1351,702,'D150C',42.5);txt(775,1348,'E221C',42.5);txt(1355,1340,'E236C',42.5);
txt(934,1287,'19F (ppm)',29);txt(1515,1287,'19F (ppm)',29);txt(934,1928,'19F (ppm)',29);txt(1515,1928,'19F (ppm)',29);

/* ---------- (e) ---------- */
const BK='#111',bar=(v,c)=>({data:xy(barPos,v),backgroundColor:c,borderColor:BK,borderWidth:1.5,barThickness:22,barPercentage:1,categoryPercentage:1,stack:'s'});
plot([169,1476,589,1865],[100,10,20,30],{type:'bar',data:{datasets:[bar(open1,RED),bar(open2,'#ff8c69'),bar(closed,BLUE),bar(unfolded,'#b4b4b4')]},options:{
 scales:{x:Object.assign(axis(barPos,{min:-1.08,max:17.5,tl:0,pad:4.5,size:25,fmt:(v)=>ureaLabels[barPos.indexOf(v)%4]}),{stacked:true}),
         y:Object.assign(axis(ticksE_Y,{min:0,max:100,tl:4,pad:1,size:27,lo:1,fmt:v=>v+'%'}),{stacked:true})},
 plugins:{frame:{color:'#111',width:2}}}});
txt(43,1364,'(e)',62,{bold:true});
sw(63,1409,89,1435,BLUE);txt(137,1422,'Closed',28);
sw(197,1409,223,1435,RED);txt(273,1422,'Open 1',28);
sw(333,1409,359,1435,'#ff8c69');txt(408,1422,'Open 2',28);
sw(471,1409,497,1435,'#b4b4b4');txt(557,1422,'Unfolded',28);
[227,328,430,532].forEach((x,i)=>txt(x,1460,mutants[i],27.5));
txt(77,1670,'Rel. Population',43,{rot:-90});
txt(380,1915,'[Urea] (M)',43);
</script></body></html>
